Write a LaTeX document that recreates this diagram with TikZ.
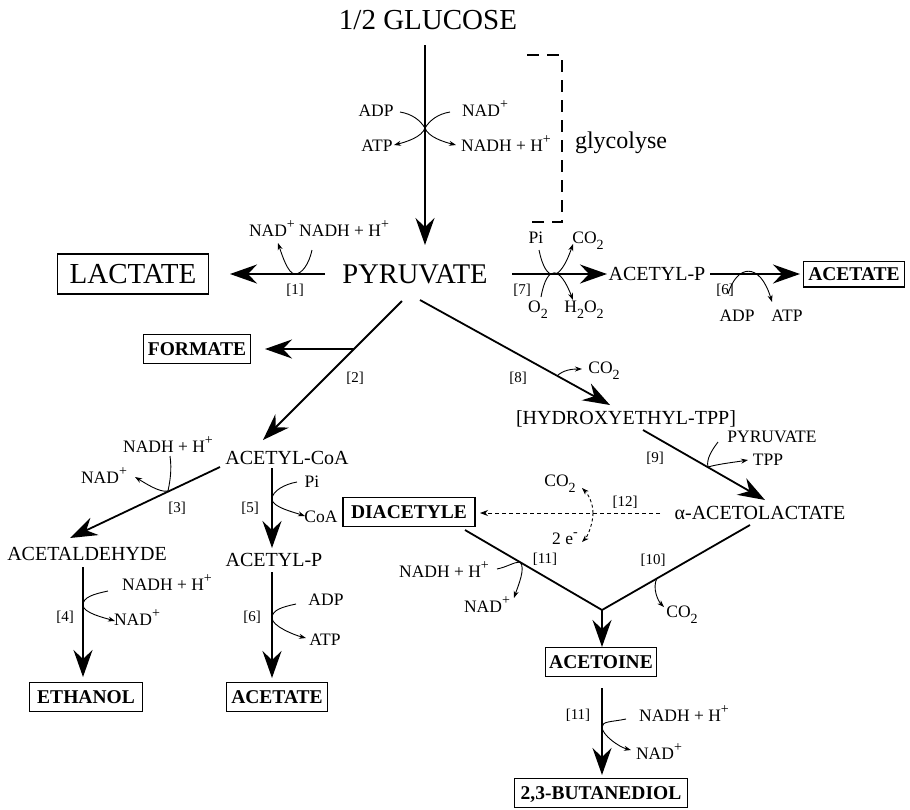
\documentclass[tikz,border=0pt]{standalone}
\usepackage{fontspec}
\setmainfont{Liberation Serif}
\usetikzlibrary{arrows.meta,calc}
\newcommand\supp[1]{\raisebox{0.45em}{\fontsize{14}{14}\selectfont #1}}
\newcommand\subb[1]{\raisebox{-0.3em}{\fontsize{14}{14}\selectfont #1}}
\begin{document}
\begin{tikzpicture}[x=1pt,y=-1pt,
  big/.style={font=\fontsize{29}{32}\selectfont, inner sep=0pt, text height=19.2pt, text depth=0pt},
  mid/.style={font=\fontsize{20}{22}\selectfont, inner sep=0pt, text height=13.2pt, text depth=0pt},
  lab/.style={font=\fontsize{17.5}{19}\selectfont, inner sep=0pt, text height=11.6pt, text depth=0pt},
  num/.style={font=\fontsize{15}{17}\selectfont, inner sep=0pt},
  glyc/.style={font=\fontsize{24}{26}\selectfont, inner sep=0pt, anchor=base},
  boxb/.style={draw, line width=1.1pt, font=\bfseries\fontsize{19.5}{22}\selectfont, inner xsep=5pt, inner ysep=8pt, text height=12.9pt, text depth=0pt},
  bigbox/.style={draw, line width=1.1pt, font=\fontsize{29}{32}\selectfont, inner xsep=12pt, inner ysep=10.4pt, text height=19.2pt, text depth=0pt},
  main/.style={line width=1.8pt, -{Stealth[length=27pt,width=19pt,inset=9pt]}},
  mainline/.style={line width=1.8pt, line join=miter},
  side/.style={line width=0.9pt},
  sidearrow/.style={line width=0.9pt, -{Stealth[length=7pt,width=5pt]}},
  dasharrow/.style={line width=0.9pt, dash pattern=on 4pt off 3pt, -{Stealth[length=8pt,width=6pt]}},
  dashside/.style={line width=0.9pt, dash pattern=on 3pt off 2.5pt, -{Stealth[length=7pt,width=5pt]}}
]
\useasboundingbox (0,0) rectangle (910,809);
\fill[white] (0,0) rectangle (910,809);

% main nodes
\node[big] (glucose) at (428,20) {1/2 GLUCOSE};
\node[big, font=\fontsize{28.5}{31}\selectfont] (pyruvate) at (415,274) {PYRUVATE};
\node[bigbox] (lactate) at (133,274) {LACTATE};
\node[mid] (acetylp2) at (657,274) {ACETYL-P};
\node[boxb, inner ysep=6.5pt] (acetate2) at (854,274) {ACETATE};
\node[boxb, inner xsep=4pt] (formate) at (197,349) {FORMATE};
\node[mid] (acetylcoa) at (287,458) {ACETYL-CoA};
\node[mid] (acetaldehyde) at (87,554) {ACETALDEHYDE};
\node[mid] (acetylp) at (274,560) {ACETYL-P};
\node[boxb, inner xsep=8pt] (ethanol) at (86,697) {ETHANOL};
\node[boxb, inner xsep=4.5pt] (acetate) at (277,697) {ACETATE};
\node[mid] (hydroxy) at (626,418) {[HYDROXYETHYL-TPP]};
\node[mid] (acetolactate) at (760,513) {α-ACETOLACTATE};
\node[boxb, inner xsep=8pt] (diacetyle) at (409,512) {DIACETYLE};
\node[boxb, inner xsep=4pt] (acetoine) at (601,662) {ACETOINE};
\node[boxb, inner xsep=6pt] (butanediol) at (601,793) {2,3-BUTANEDIOL};

% glycolysis bracket
\node[glyc] (glyco) at (621,148) {glycolyse};
\draw[line width=1.4pt, dash pattern=on 12pt off 8pt] (527,55) -- (562,55) -- (562,222) -- (527,222);

% main connectors
\draw[main] ($(glucose)+(-3,25)$) -- ($(pyruvate)+(10,-29)$);
\draw[main] ($(pyruvate)+(-90,0)$) -- ($(lactate)+(97,0)$);
\draw[main] ($(pyruvate)+(97,0)$) -- ($(acetylp2)+(-50,0)$);
\draw[main] ($(acetylp2)+(53,0)$) -- ($(acetate2)+(-54,0)$);
\draw[main] ($(pyruvate)+(-13,27)$) -- ($(acetylcoa)+(-24,-18)$);
\coordinate (fj) at (354,349);
\draw[main] (fj) -- ($(formate)+(68,0)$);
\draw[main] ($(acetylcoa)+(-67,9)$) -- ($(acetaldehyde)+(-17,-16)$);
\draw[main] ($(acetylcoa)+(-15,10)$) -- ($(acetylp)+(-2,-12)$);
\draw[main] ($(acetaldehyde)+(-4,13)$) -- ($(ethanol)+(-3,-20)$);
\draw[main] ($(acetylp)+(-2,12)$) -- ($(acetate)+(-5,-19)$);
\draw[main] ($(pyruvate)+(5,26)$) -- ($(hydroxy)+(-16,-13)$);
\draw[main] ($(hydroxy)+(17,12)$) -- ($(acetolactate)+(5,-13)$);
\draw[dasharrow] ($(acetolactate)+(-100,0)$) -- ($(diacetyle)+(71,1)$);
\coordinate (dj) at (593,513);
\coordinate (vj) at (602,610);
\draw[mainline] ($(diacetyle)+(56,18)$) -- (vj) -- ($(acetolactate)+(-10,12)$);
\draw[main] (vj) -- ($(acetoine)+(1,-15)$);
\draw[main] ($(acetoine)+(1,26)$) -- ($(butanediol)+(1,-18)$);

% glycolysis cofactors
\node[lab] (adp1) at (376,111) {ADP};
\node[lab] (nad1) at (485,111) {NAD\supp{+}};
\node[lab] (atp1) at (377,146) {ATP};
\node[lab] (nadh1) at (506,146) {NADH + H\supp{+}};
\coordinate (gc) at (425,128);
\draw[side] ($(adp1)+(24,1)$) .. controls +(12,2) and +(-5,-8) .. (gc);
\draw[sidearrow] (gc) .. controls +(-3,9) and +(12,-3) .. ($(atp1)+(17,-1)$);
\draw[side] ($(nad1)+(-35,1)$) .. controls +(-12,2) and +(5,-8) .. (gc);
\draw[sidearrow] (gc) .. controls +(3,9) and +(-12,-3) .. ($(nadh1)+(-50,-1)$);

% [1] lactate
\node[lab] (nadlac) at (319,231) {NAD\supp{+} NADH + H\supp{+}};
\node[num] (n1) at (295,290) {[1]};
\coordinate (lj) at (295,274);
\draw[sidearrow] ($(nadlac)+(-7,19)$) .. controls +(-3,14) and +(7,0) .. (lj) .. controls +(-7,0) and +(4,12) .. ($(nadlac)+(-41,12)$);

% [7]
\node[lab] (pi7) at (536,238) {Pi};
\node[lab] (co27) at (588,238) {CO\subb{2}};
\node[lab] (o27) at (538,307) {O\subb{2}};
\node[lab] (h2o27) at (584,307) {H\subb{2}O\subb{2}};
\node[num] (n7) at (522,290) {[7]};
\draw[sidearrow] ($(pi7)+(3,12)$) .. controls (546,284) and (560,282) .. ($(co27)+(-15,6)$);
\draw[sidearrow] ($(o27)+(3,-10)$) .. controls (547,264) and (560,266) .. ($(h2o27)+(-11,-7)$);

% [6] right
\node[num] (n6r) at (725,290) {[6]};
\node[lab] (adp6r) at (737,316) {ADP};
\node[lab] (atp6r) at (787,316) {ATP};
\draw[sidearrow] ($(adp6r)+(-9,-22)$) .. controls (737,264) and (760,262) .. ($(atp6r)+(-15,-14)$);

% [2], [8]
\node[num] (n2) at (355,378) {[2]};
\node[num] (n8) at (518,378) {[8]};
\node[lab] (co28) at (604,368) {CO\subb{2}};
\coordinate (j8) at (557,376);
\draw[sidearrow] (j8) .. controls +(6,-6) and +(-10,0) .. ($(co28)+(-22,1)$);

% [3]
\node[lab] (nadh3) at (168,447) {NADH + H\supp{+}};
\node[lab] (nad3) at (104,478) {NAD\supp{+}};
\node[num] (n3) at (177,508) {[3]};
\coordinate (j3) at (168,491);
\draw[sidearrow] ($(nadh3)+(2,9)$) .. controls +(2,14) and +(2,-10) .. (j3) .. controls +(-8,2) and +(10,6) .. ($(nad3)+(31,-1)$);

% [5]
\node[num] (n5) at (250,508) {[5]};
\node[lab] (pi5) at (312,482) {Pi};
\node[lab] (coa5) at (321,517) {CoA};
\coordinate (j5) at (272,499);
\draw[sidearrow] ($(pi5)+(-15,0)$) .. controls +(-12,2) and +(0,-8) .. (j5) .. controls +(0,8) and +(-12,-4) .. ($(coa5)+(-16,-1)$);

% [4]
\node[lab] (nadh4) at (167,585) {NADH + H\supp{+}};
\node[lab] (nad4) at (137,620) {NAD\supp{+}};
\node[num] (n4) at (65,617) {[4]};
\coordinate (j4) at (83,605);
\draw[sidearrow] ($(nadh4)+(-59,6)$) .. controls +(-14,3) and +(0,-8) .. (j4) .. controls +(0,8) and +(-10,-3) .. ($(nad4)+(-22,1)$);

% [6] bottom
\node[num] (n6) at (252,617) {[6]};
\node[lab] (adp6) at (326,600) {ADP};
\node[lab] (atp6) at (325,640) {ATP};
\coordinate (j6) at (272,618);
\draw[sidearrow] ($(adp6)+(-30,4)$) .. controls +(-14,3) and +(0,-8) .. (j6) .. controls +(0,8) and +(-12,-3) .. ($(atp6)+(-19,-2)$);

% [9]
\node[num] (n9) at (655,458) {[9]};
\node[lab] (pyr9) at (772,437) {PYRUVATE};
\node[lab] (tpp9) at (768,460) {TPP};
\coordinate (j9) at (708,467);
\draw[sidearrow] ($(pyr9)+(-54,5)$) .. controls +(-6,8) and +(-2,-8) .. (j9) .. controls +(10,-3) and +(-12,2) .. ($(tpp9)+(-20,0)$);

% [12]
\node[lab] (co212) at (560,481) {CO\subb{2}};
\node[lab] (e12) at (565,539) {2 e\supp{-}};
\node[num] (n12) at (625,502) {[12]};
\draw[dashside] (dj) .. controls +(0,-10) and +(6,6) .. ($(co212)+(22,7)$);
\draw[dashside] (dj) .. controls +(0,10) and +(6,-6) .. ($(e12)+(17,3)$);

% [11] left, [10]
\node[num] (n11) at (545,559) {[11]};
\node[num] (n10) at (653,560) {[10]};
\node[lab] (nadh11) at (444,572) {NADH + H\supp{+}};
\node[lab] (nad11) at (487,607) {NAD\supp{+}};
\node[lab] (co210) at (682,612) {CO\subb{2}};
\coordinate (j11) at (520,562);
\draw[sidearrow] ($(nadh11)+(53,-3)$) .. controls +(10,-2) and +(-6,0) .. (j11) .. controls +(6,6) and +(4,-12) .. ($(nad11)+(27,-9)$);
\coordinate (j10) at (657,578);
\draw[sidearrow] (j10) .. controls +(-5,10) and +(-6,-6) .. ($(co210)+(-18,-5)$);

% [11] bottom
\node[num] (n11b) at (578,715) {[11]};
\node[lab] (nadh11b) at (684,716) {NADH + H\supp{+}};
\node[lab] (nad11b) at (659,754) {NAD\supp{+}};
\coordinate (j11b) at (602,727);
\draw[sidearrow] ($(nadh11b)+(-58,3)$) .. controls +(-14,3) and +(0,-6) .. (j11b) .. controls +(0,8) and +(-12,-3) .. ($(nad11b)+(-28,-4)$);
\end{tikzpicture}
\end{document}
